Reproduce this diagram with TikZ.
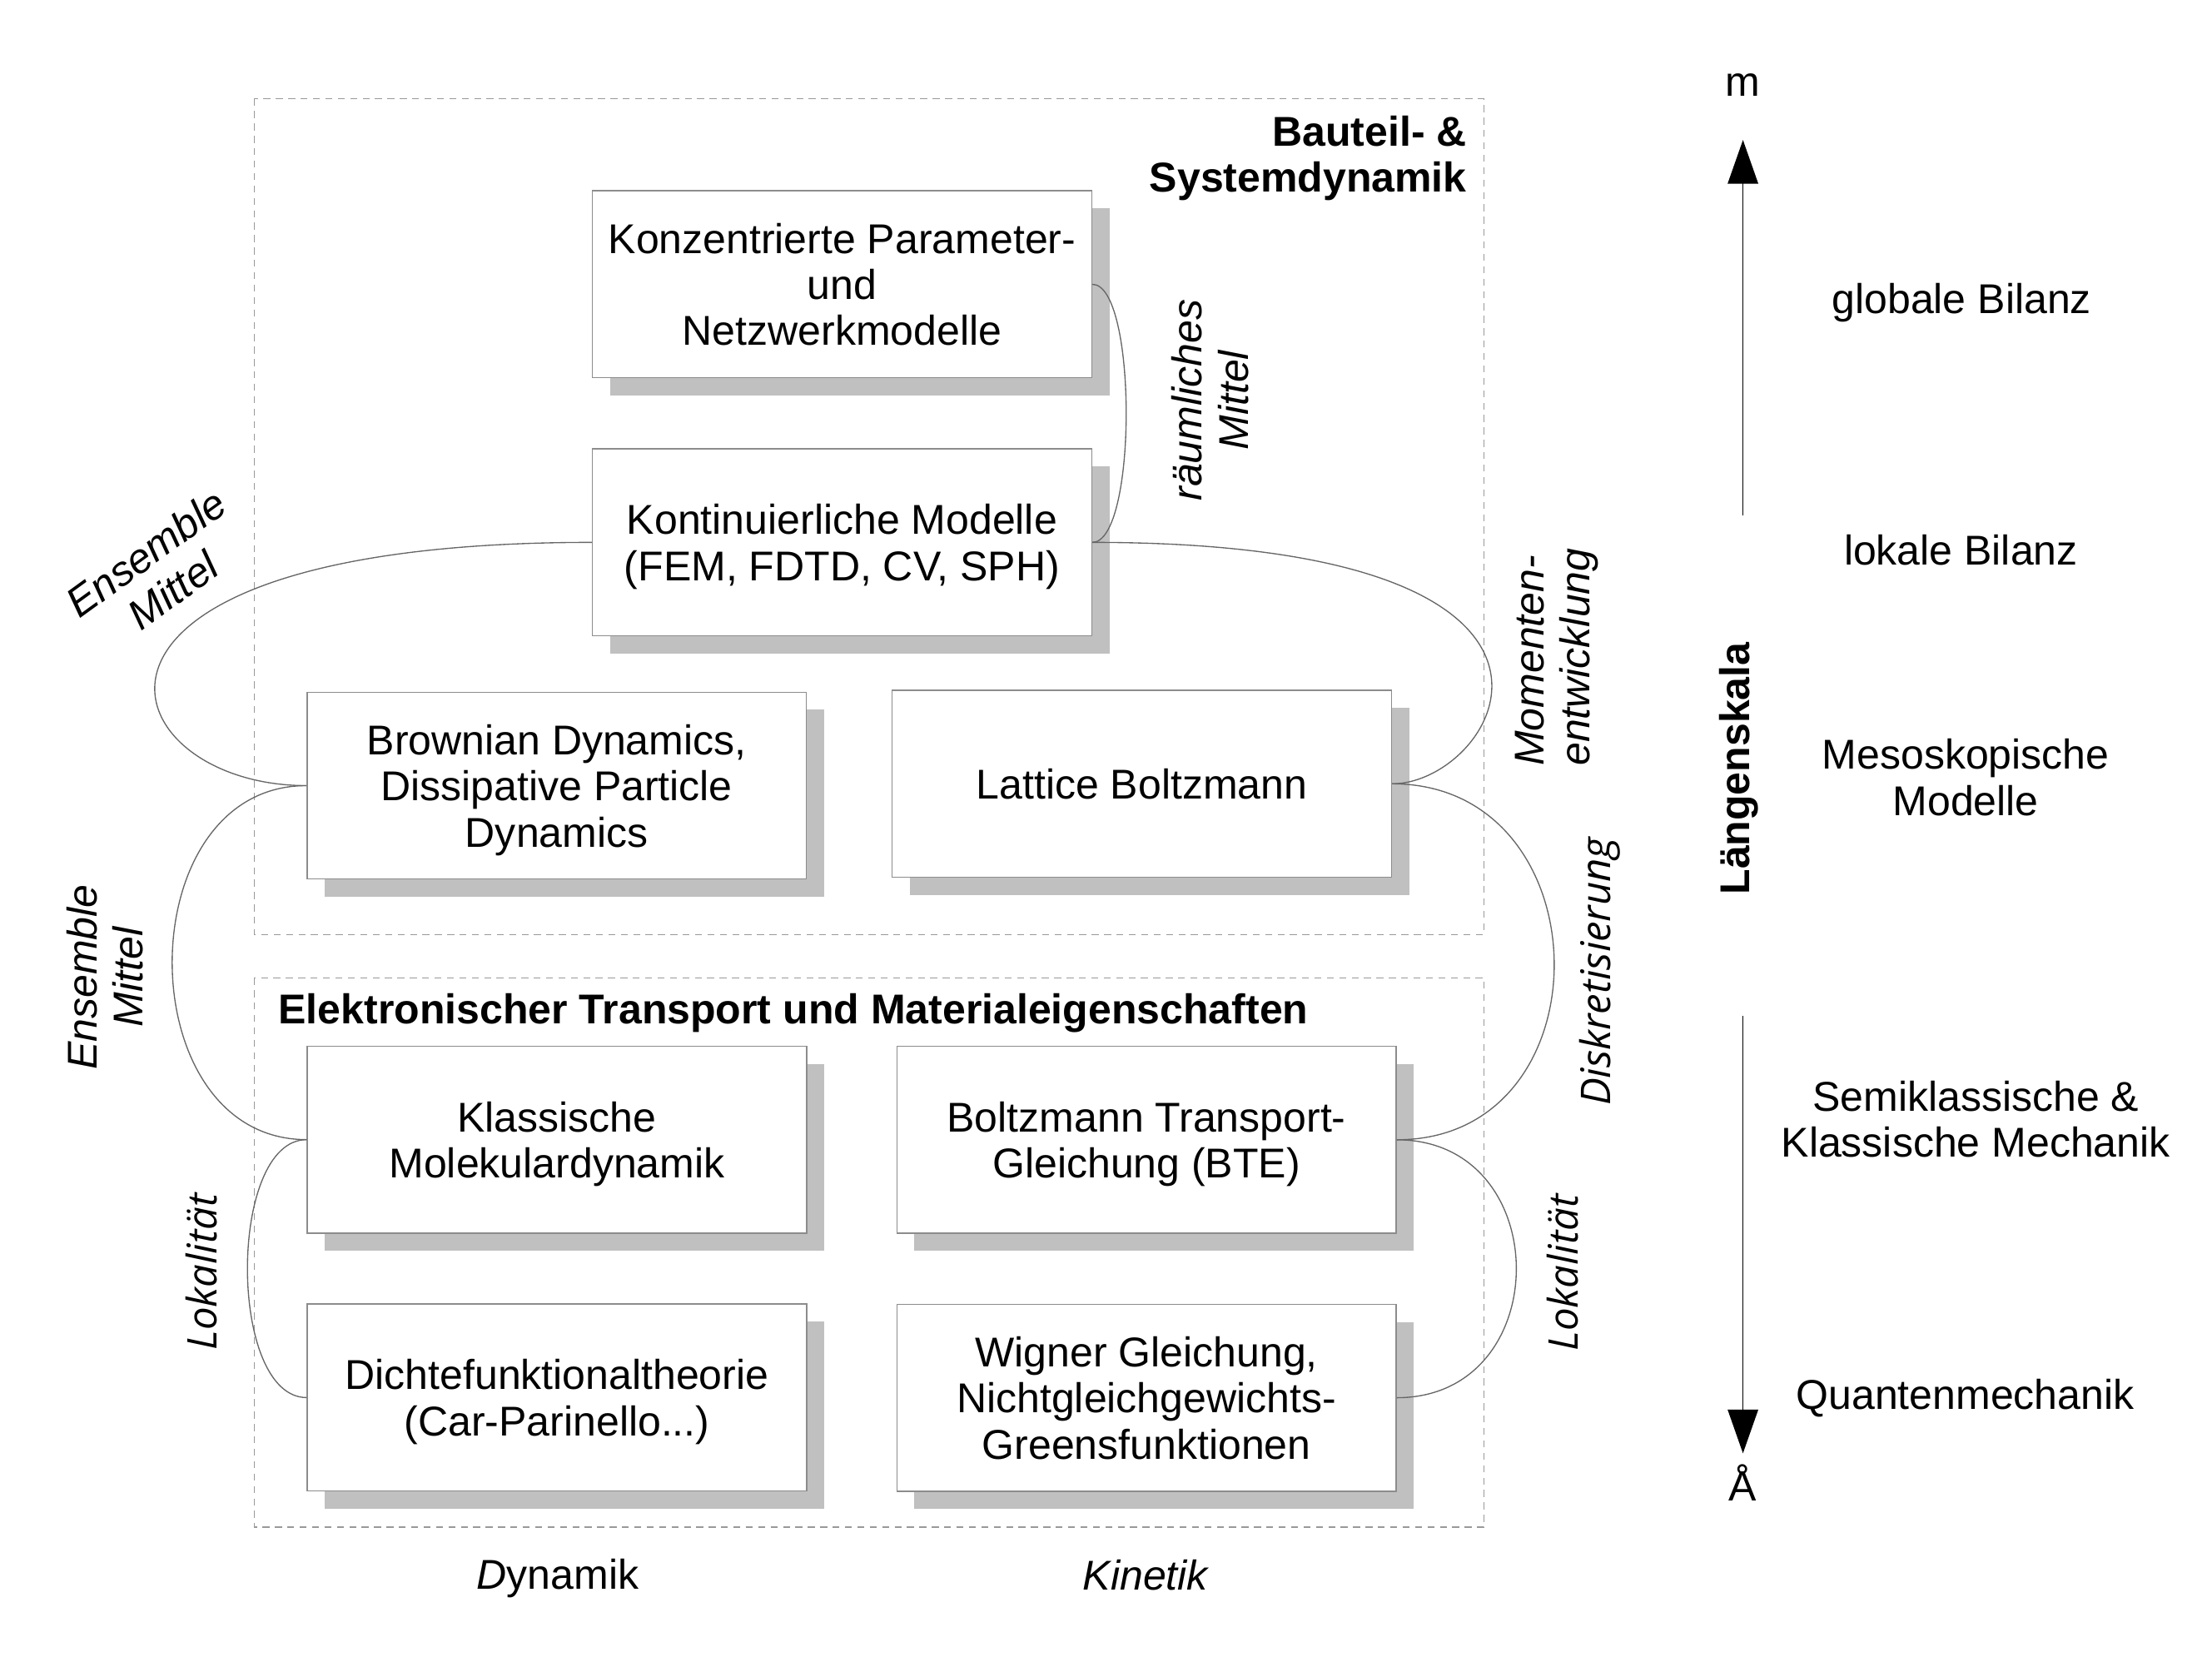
\documentclass[tikz,border=0pt]{standalone}
\usepackage{fontspec}
\setmainfont{Liberation Sans}
\newfontfamily\osans{Open Sans}
\usetikzlibrary{shadows,arrows.meta}
\definecolor{shadowgray}{HTML}{C0C0C0}
\definecolor{boxline}{HTML}{8C8C8C}
\definecolor{groupline}{HTML}{999999}
\definecolor{linkgray}{HTML}{666666}
\newcommand{\stdfont}{\fontsize{16.8}{18.6}\selectfont}
\begin{document}
\begin{tikzpicture}[x=0.02cm,y=-0.02cm,
  every node/.style={font=\stdfont},
  model/.style={draw=boxline, line width=0.5pt, fill=white, minimum width=7.08cm,
    minimum height=2.65cm, align=center, inner sep=0pt, text depth=0pt,
    drop shadow={shadow xshift=0.25cm, shadow yshift=-0.25cm, fill=shadowgray, opacity=1}},
  group/.style={draw=groupline, line width=0.5pt, dash pattern=on 2.8pt off 2.2pt},
  link/.style={draw=linkgray, line width=0.45pt},
  lbl/.style={font=\stdfont\itshape, align=center, inner sep=0pt},
  lblos/.style={font=\fontsize{16.5}{18.6}\selectfont\osans\itshape, inner sep=0pt},
  plain/.style={inner sep=0pt, align=center},
  axis/.style={line width=0.6pt, -{Triangle[length=0.62cm,width=0.43cm]}}
]
\useasboundingbox (0,0) rectangle (1568,1185);

% group frames
\draw[group] (180.2,70) rectangle (1051.9,662.3);
\draw[group] (180.2,693) rectangle (1051.9,1082.4);

% model boxes
\node[model] (konz)  at (596.9,201.5) {Konzentrierte Parameter-\\und\\Netzwerkmodelle};
\node[model] (kont)  at (596.9,384.4) {Kontinuierliche Modelle\\(FEM, FDTD, CV, SPH)};
\node[model] (brown) at (394.6,556.8) {Brownian Dynamics,\\Dissipative Particle\\Dynamics};
\node[model] (latt)  at (809.4,555.5) {Lattice Boltzmann};
\node[model] (md)    at (394.8,807.7) {Klassische\\Molekulardynamik};
\node[model] (bte)   at (812.7,807.8) {Boltzmann Transport-\\Gleichung (BTE)};
\node[model] (dft)   at (394.8,990.5) {Dichtefunktionaltheorie\\(Car-Parinello...)};
\node[model] (wig)   at (812.7,990.6) {Wigner Gleichung,\\Nichtgleichgewichts-\\Greensfunktionen};

% connectors
\draw[link] (konz.east) .. controls +(32,0) and +(32,0) .. (kont.east);
\draw[link] (kont.east) .. controls +(390,0) and +(75,0) .. (latt.east);
\draw[link] (kont.west) .. controls +(-405,0) and +(-142,0) .. (brown.west);
\draw[link] (brown.west) .. controls +(-127,0) and +(-127,0) .. (md.west);
\draw[link] (md.west) .. controls +(-56,0) and +(-56,0) .. (dft.west);
\draw[link] (latt.east) .. controls +(151,0) and +(151,0) .. (bte.east);
\draw[link] (bte.east) .. controls +(113,0) and +(113,0) .. (wig.east);

% connector labels
\node[lbl, rotate=36] (ens1) at (113,405) {Ensemble\\Mittel};
\node[lbl, rotate=90] (ens2) at (74.3,692.5) {Ensemble\\Mittel};
\node[lblos, rotate=90] (lok1) at (143,901.4) {Lokalität};
\node[lbl, rotate=90] (raum) at (857.9,283.7) {räumliches\\Mittel};
\node[lbl, rotate=90, align=left] (mom) at (1103.5,465.7) {Momenten-\\entwicklung};
\node[lblos, rotate=90] (disk) at (1134,688.5) {Diskretisierung};
\node[lblos, rotate=90] (lok2) at (1107.7,902) {Lokalität};

% titles
\node[plain, font=\stdfont\bfseries, align=right, anchor=north east] (t1) at (1040,81.9) {Bauteil- \&\\Systemdynamik};
\node[plain, font=\stdfont\bfseries, anchor=base west] (t2) at (197.1,725.7) {Elektronischer Transport und Materialeigenschaften};

% bottom labels
\node[plain, anchor=base] (dyn) at (395.4,1126.5) {{\itshape D}ynamik};
\node[plain, font=\stdfont\itshape, anchor=base] (kin) at (811.9,1126.8) {Kinetik};

% length axis
\node[plain, anchor=base] (mtop) at (1235.5,68) {m};
\node[plain, anchor=base] (ang) at (1235.5,1063.5) {Å};
\coordinate (upS) at (1235.5,365.1);
\coordinate (upT) at (1235.5,99.2);
\coordinate (dnS) at (1235.5,720.2);
\coordinate (dnT) at (1235.5,1030);
\draw[axis] (upS) -- (upT);
\draw[axis] (dnS) -- (dnT);
\node[plain, rotate=90, font=\stdfont\bfseries] (laeng) at (1232.4,544.7) {Längenskala};

% scale levels
\node[plain, anchor=base] (glob) at (1390.5,222.4) {globale Bilanz};
\node[plain, anchor=base] (lokb) at (1390,400.6) {lokale Bilanz};
\node[plain, anchor=north] (meso) at (1393.4,523.5) {Mesoskopische\\Modelle};
\node[plain, anchor=north] (semi) at (1400.5,765.8) {Semiklassische \&\\Klassische Mechanik};
\node[plain, anchor=base] (quant) at (1393,998.6) {Quantenmechanik};
\end{tikzpicture}
\end{document}
